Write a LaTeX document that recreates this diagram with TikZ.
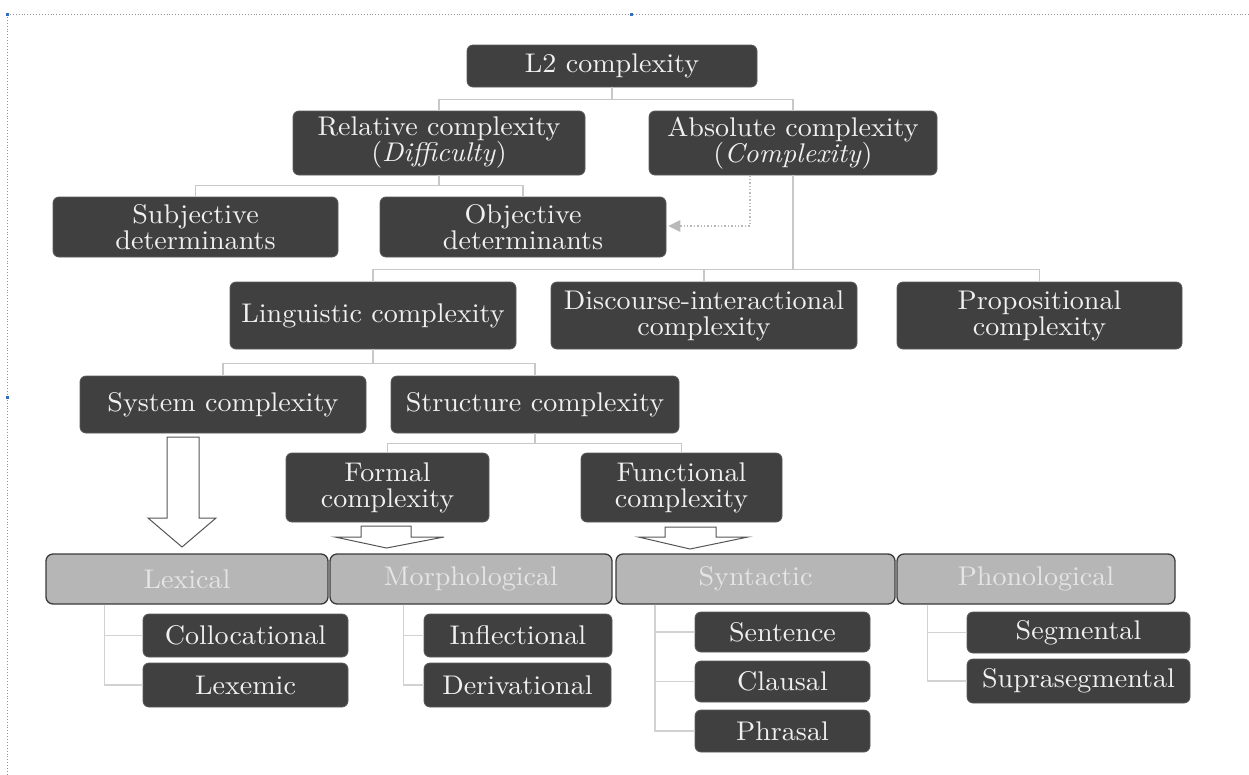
\documentclass[tikz,border=0pt]{standalone}
\usepackage{fontspec}
\setmainfont{lmroman10-regular.otf}[ItalicFont=lmroman10-italic.otf, FakeStretch=1.04]
\usetikzlibrary{calc}
\definecolor{boxfill}{HTML}{404040}
\definecolor{boxline}{HTML}{5A5A5A}
\definecolor{barfill}{HTML}{B6B6B6}
\definecolor{barline}{HTML}{3A3A3A}
\definecolor{conncol}{HTML}{C8C8C8}
\definecolor{subconn}{HTML}{D2D2D2}
\definecolor{arrline}{HTML}{555555}
\definecolor{handle}{HTML}{2A6FD6}
\begin{document}
\begin{tikzpicture}[x=1pt,y=-1pt,
  box/.style={rounded corners=6pt, fill=boxfill, draw=boxline, line width=0.8pt,
    text=white!94!black, align=center, inner sep=0pt,
    font=\fontsize{27}{26}\selectfont},
  bar/.style={rounded corners=7pt, fill=barfill, draw=barline, line width=1.3pt,
    text=white!90!black, align=center, inner sep=0pt, minimum height=50pt,
    font=\fontsize{27}{26}\selectfont},
  conn/.style={draw=conncol, line width=1.6pt},
  subc/.style={draw=subconn, line width=1.6pt},
  blockarr/.style={draw=arrline, fill=white, line width=1pt, line join=miter},
  frame/.style={draw=gray!85, dotted, line width=0.9pt}]
\useasboundingbox (0,0) rectangle (1249,774);
% frame
\draw[frame] (7,14) -- (1249,14);
\draw[frame] (7,14) -- (7,774);
\fill[handle] (5.5,12.5) rectangle (8.5,15.5);
\fill[handle] (629.5,12.5) rectangle (632.5,15.5);
\fill[handle] (5.5,395.5) rectangle (8.5,398.5);
% nodes
\node[box, minimum width=290pt, minimum height=42pt] (l2) at (612,66) {L2 complexity};
\node[box, minimum width=292pt, minimum height=64pt] (rel) at (439,143) {Relative complexity\\(\textit{Difficulty})};
\node[box, minimum width=288pt, minimum height=64pt] (abs) at (793,143) {Absolute complexity\\(\textit{Complexity})};
\node[box, minimum width=285pt, minimum height=60pt] (subj) at (195.5,227) {Subjective\\determinants};
\node[box, minimum width=286pt, minimum height=60pt] (obj) at (523,227) {Objective\\determinants};
\node[box, minimum width=286pt, minimum height=67pt] (ling) at (373,315.5) {Linguistic complexity};
\node[box, minimum width=306pt, minimum height=67pt] (disc) at (704,315.5) {Discourse-interactional\\complexity};
\node[box, minimum width=285pt, minimum height=67pt] (prop) at (1039.5,315.5) {Propositional\\complexity};
\node[box, minimum width=286pt, minimum height=57pt] (sys) at (223,404.5) {System complexity};
\node[box, minimum width=288pt, minimum height=57pt] (struc) at (535,404.5) {Structure complexity};
\node[box, minimum width=203pt, minimum height=69pt] (formal) at (387.5,487.5) {Formal\\complexity};
\node[box, minimum width=201pt, minimum height=69pt] (func) at (681.5,487.5) {Functional\\complexity};
% category bars
\node[bar, minimum width=282pt] (lex) at (187,579) {Lexical};
\node[bar, minimum width=282pt] (morph) at (471,579) {Morphological};
\node[bar, minimum width=279pt] (syn) at (755.5,579) {Syntactic};
\node[bar, minimum width=278pt] (phon) at (1036,579) {Phonological};
% sub items
\node[box, minimum width=205pt, minimum height=43pt] (colloc) at (245.5,635.5) {Collocational};
\node[box, minimum width=205pt, minimum height=44pt] (lexemic) at (245.5,685) {Lexemic};
\node[box, minimum width=188pt, minimum height=43pt] (infl) at (518,635.5) {Inflectional};
\node[box, minimum width=187pt, minimum height=44pt] (deriv) at (517.5,685) {Derivational};
\node[box, minimum width=175pt, minimum height=40pt] (sent) at (782.5,632) {Sentence};
\node[box, minimum width=175pt, minimum height=41pt] (claus) at (782.5,681.5) {Clausal};
\node[box, minimum width=175pt, minimum height=42pt] (phras) at (782.5,731) {Phrasal};
\node[box, minimum width=223pt, minimum height=41pt] (seg) at (1078.5,632.5) {Segmental};
\node[box, minimum width=223pt, minimum height=44pt] (supra) at (1078.5,681) {Suprasegmental};
% tree connectors
\draw[conn] (l2.south) -- ++(0,12) -| (rel.north);
\draw[conn] (l2.south) -- ++(0,12) -| (abs.north);
\draw[conn] (rel.south) -- ++(0,10) -| (subj.north);
\draw[conn] (rel.south) -- ++(0,10) -| (obj.north);
\draw[conn] (abs.south) -- ++(0,94) -| (ling.north);
\draw[conn] (abs.south) -- ++(0,94) -| (disc.north);
\draw[conn] (abs.south) -- ++(0,94) -| (prop.north);
\draw[conn] (ling.south) -- ++(0,14) -| (sys.north);
\draw[conn] (ling.south) -- ++(0,14) -| (struc.north);
\draw[conn] (struc.south) -- ++(0,10) -| (formal.north);
\draw[conn] (struc.south) -- ++(0,10) -| (func.north);
% dotted arrow
\coordinate (dstart) at ($(abs.south)+(-43,0)$);
\draw[draw=gray!55, dotted, line width=1.4pt] (dstart) |- ($(obj.east)+(9,-1)$);
\fill[gray!55] ($(obj.east)+(2,-1)$) -- ++(12,-6) -- ++(0,12) -- cycle;
% sub connectors
\coordinate (lexb) at ($(lex.south west)+(59,0)$);
\draw[subc] (lexb) |- (colloc.west);
\draw[subc] (lexb) |- (lexemic.west);
\coordinate (morb) at ($(morph.south west)+(74,0)$);
\draw[subc] (morb) |- (infl.west);
\draw[subc] (morb) |- (deriv.west);
\coordinate (synb) at ($(syn.south west)+(39.5,0)$);
\draw[subc] (synb) |- (sent.west);
\draw[subc] (synb) |- (claus.west);
\draw[subc] (synb) |- (phras.west);
\coordinate (phob) at ($(phon.south west)+(31,0)$);
\draw[subc] (phob) |- (seg.west);
\draw[subc] (phob) |- (supra.west);
% block arrows
\draw[blockarr] (167,437) -- (199,437) -- (199,518) -- (216,518) -- (182,547) -- (148,518) -- (167,518) -- cycle;
\draw[blockarr] (361,526) -- (411,526) -- (411,537) -- (444,537) -- (386.5,548) -- (335,537) -- (361,537) -- cycle;
\draw[blockarr] (665,527) -- (716,527) -- (716,537) -- (748,537) -- (690,549) -- (638.5,537) -- (665,537) -- cycle;
\end{tikzpicture}
\end{document}
